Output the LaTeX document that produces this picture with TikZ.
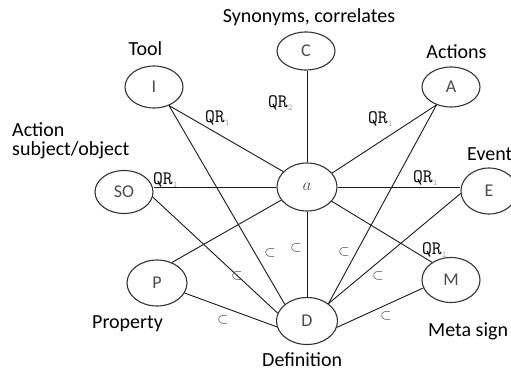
\documentclass[tikz,border=0pt]{standalone}
\usepackage{fontspec}
\setmainfont{Carlito}
\usetikzlibrary{shapes.geometric}
\newcommand\qrlab[1]{QR\raisebox{-3pt}{\fontsize{9}{9}\selectfont\color{black!35}#1}}
\begin{document}
\begin{tikzpicture}[x=1pt,y=-1pt,
  circ/.style={ellipse,draw=black!80,line width=1.1pt,inner sep=0pt,
    font=\fontsize{18}{18}\selectfont,text=black!70},
  link/.style={draw=black!90,line width=0.9pt},
  caption/.style={font=\fontsize{20}{17}\selectfont,text=black,inner sep=0pt},
  qr/.style={font=\ttfamily\fontsize{19}{19}\selectfont,text=black,inner sep=0pt,anchor=base west},
  incl/.style={font=\fontsize{15}{15}\selectfont,text=black!80,inner sep=0pt}]
\useasboundingbox (0,0) rectangle (511,372);
\fill[white] (0,0) rectangle (511,372);
\begin{scope}
\clip (0,0) rectangle (511,372);

% concept nodes
\node[circ,minimum width=60pt,minimum height=48pt] (a)  at (307,187) {\fontsize{18}{18}\selectfont$a$};
\node[circ,minimum width=58pt,minimum height=38pt] (C)  at (306,51)  {C};
\node[circ,minimum width=58pt,minimum height=42pt] (I)  at (154,87)  {I};
\node[circ,minimum width=58pt,minimum height=40pt] (A)  at (451,87)  {A};
\node[circ,minimum width=58pt,minimum height=43pt] (SO) at (124,192) {SO};
\node[circ,minimum width=56pt,minimum height=46pt] (E)  at (489,191) {E};
\node[circ,minimum width=60pt,minimum height=46pt] (P)  at (157,283) {P};
\node[circ,minimum width=58pt,minimum height=45pt] (M)  at (451,280) {M};
\node[circ,minimum width=61pt,minimum height=47pt] (D)  at (307,321) {D};

% QR relations around the centre
\draw[link] (a.north) -- (a.north |- C.south);
\draw[link] (I.-51) -- (a.147);
\draw[link] (A.-129) -- (a.29);
\draw[link] (a.west) -- (a.west -| SO.east);
\draw[link] (a.east) -- (a.east -| E.west);
\draw[link] (P.54) -- (a.207);
\draw[link] (a.-30) -- (M.137);

% inclusion relations towards the definition
\draw[link] (a.south) -- (D.north);
\draw[link] (I.-51) -- (D.143);
\draw[link] (SO.-10) -- (D.165);
\draw[link] (P.-20) -- (D.191);
\draw[link] (A.-129) -- (D.39);
\draw[link] (E.185) -- (D.39);
\draw[link] (M.196) -- (D.-12);

% relation labels
\node[qr] (qC)  at (268,107) {\qrlab{2}};
\node[qr] (qI)  at (205,122) {\qrlab{1}};
\node[qr] (qA)  at (368,123) {\qrlab{1}};
\node[qr] (qSO) at (153,184) {\qrlab{1}};
\node[qr] (qE)  at (413,182) {\qrlab{1}};
\node[qr] (qM)  at (422,254) {\qrlab{1}};

\node[incl] (sa)  at (296,248) {$\subset$};
\node[incl] (sI)  at (270,253) {$\subset$};
\node[incl] (sA)  at (344,252) {$\subset$};
\node[incl] (sE)  at (378,276) {$\subset$};
\node[incl] (sM)  at (386,316) {$\subset$};
\node[incl] (sSO) at (237,276) {$\subset$};
\node[incl] (sP)  at (223,320) {$\subset$};

% captions
\node[caption,anchor=base] (tC) at (309,22) {Synonyms, correlates};
\node[caption,anchor=base] (tI) at (145.5,55) {Tool};
\node[caption,anchor=base] (tA) at (456.5,58) {Actions};
\node[caption,anchor=base west] (tSO1) at (12,136) {Action};
\node[caption,anchor=base west] (tSO2) at (12,155) {subject/object};
\node[caption,anchor=base west] (tE) at (467,160) {Event};
\node[caption,anchor=base west] (tP) at (92,328) {Property};
\node[caption,anchor=base west] (tM) at (428,336) {Meta sign};
\node[caption,anchor=base west] (tD) at (262,366) {Definition};
\end{scope}
\end{tikzpicture}
\end{document}
